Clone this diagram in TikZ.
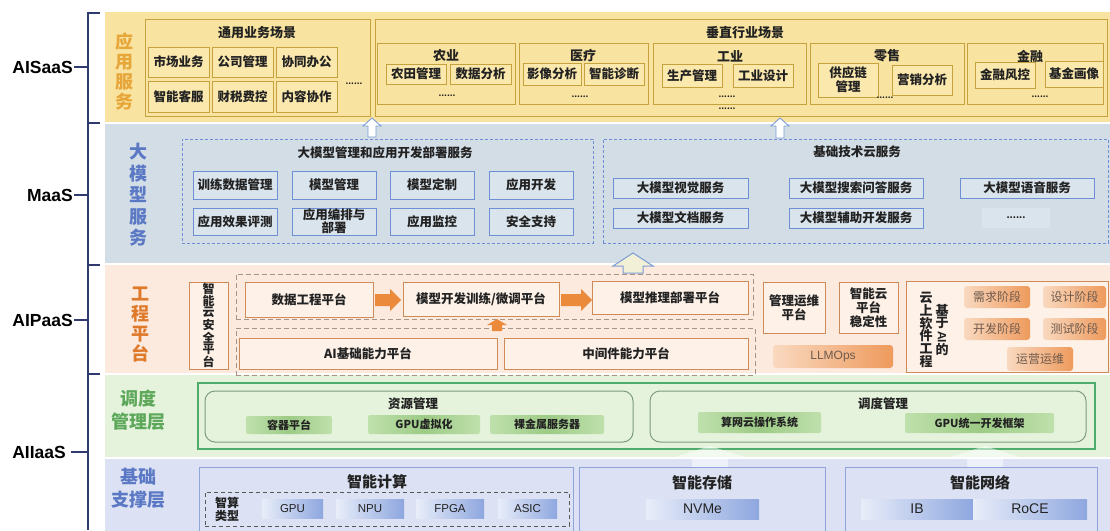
\documentclass[tikz,border=0pt]{standalone}
\usepackage{fontspec}
\setmainfont{Noto Sans CJK SC}
\newfontfamily\latf{Liberation Sans}
\usetikzlibrary{calc}
\definecolor{yband}{HTML}{F9E3A0}
\definecolor{ygold}{HTML}{C6A23F}
\definecolor{ycell}{HTML}{FBE8AD}
\definecolor{ytitle}{HTML}{E6A63A}
\definecolor{mband}{HTML}{D2DDE5}
\definecolor{mblue}{HTML}{6E8ED6}
\definecolor{mcell}{HTML}{DAE4EC}
\definecolor{mtitle}{HTML}{5B78C5}
\definecolor{pband}{HTML}{FCEADF}
\definecolor{pbrown}{HTML}{CF8A57}
\definecolor{pfill}{HTML}{FDF1E8}
\definecolor{pdashc}{HTML}{A89484}
\definecolor{parrow}{HTML}{EC8A3C}
\definecolor{ptitle}{HTML}{E07A2B}
\definecolor{ocL}{HTML}{F9D9C0}
\definecolor{ocR}{HTML}{EE9A5C}
\definecolor{otext}{HTML}{6E5A4E}
\definecolor{gband}{HTML}{E5F3DD}
\definecolor{gborder}{HTML}{4EAD6C}
\definecolor{grrc}{HTML}{7E9C7E}
\definecolor{gcL}{HTML}{BFE0AC}
\definecolor{gcM}{HTML}{9DCB86}
\definecolor{gtitle}{HTML}{5DA85A}
\definecolor{bband}{HTML}{DCE2F3}
\definecolor{bborder}{HTML}{8FA4D8}
\definecolor{bcL}{HTML}{E8EDF9}
\definecolor{bcR}{HTML}{8EA7DF}
\definecolor{brkc}{HTML}{2F3B6E}
\definecolor{tdark}{HTML}{222222}
\definecolor{arrowl}{HTML}{7D9BD5}
\definecolor{arrowf}{HTML}{F2F0D6}
\newcommand\fz[2]{\fontsize{#1}{#2}\selectfont}
\newcommand\mybox[7]{%
  \pgfmathsetmacro\mbw{#5-(#3)}%
  \pgfmathsetmacro\mbh{#6-(#4)}%
  \pgfmathsetmacro\mbx{(#3+#5)/2}%
  \pgfmathsetmacro\mby{(#4+#6)/2}%
  \node[mybase,minimum width=\mbw pt,minimum height=\mbh pt,#1] (#2) at (\mbx,\mby) {#7};}
% style, x, tip y, base y, head half width, shaft half width, head height
\newcommand\myup[7]{\filldraw[#1] (#2-#6,#4) -- (#2-#6,#3+#7) -- (#2-#5,#3+#7) -- (#2,#3) -- (#2+#5,#3+#7) -- (#2+#6,#3+#7) -- (#2+#6,#4) -- cycle;}
% style, y, tail x, tip x, head half height, shaft half height, head length
\newcommand\myright[7]{\filldraw[#1] (#3,#2-#6) -- (#4-#7,#2-#6) -- (#4-#7,#2-#5) -- (#4,#2) -- (#4-#7,#2+#5) -- (#4-#7,#2+#6) -- (#3,#2+#6) -- cycle;}
\tikzset{
 mybase/.style={inner sep=0pt, outer sep=0pt, align=center},
 yb/.style={draw=ygold, line width=1pt},
 yc/.style={draw=ygold, line width=1pt, fill=ycell, font=\bfseries\fz{12.5}{14}, text=tdark},
 yt/.style={font=\bfseries\fz{13}{15}, text=tdark, inner sep=0pt},
 dots/.style={font=\bfseries\fz{8}{8}, text=tdark, inner sep=0pt},
 mdash/.style={draw=mblue, line width=0.9pt, dash pattern=on 3pt off 2pt},
 mc/.style={draw=mblue, line width=1pt, fill=mcell, font=\bfseries\fz{12.5}{13}, text=tdark},
 mt/.style={font=\bfseries\fz{12.5}{14}, text=tdark, inner sep=0pt},
 pb/.style={draw=pbrown, line width=1pt, fill=pfill, font=\bfseries\fz{12.5}{14}, text=tdark},
 pdash/.style={draw=pdashc, line width=0.9pt, dash pattern=on 5pt off 3pt},
 oc/.style={left color=ocL, right color=ocR, rounded corners=3pt, font=\fz{12}{14}, text=otext},
 gbx/.style={draw=gborder, line width=1.3pt},
 grr/.style={draw=grrc, line width=1pt, rounded corners=10pt},
 gc/.style={left color=gcL, right color=gcL, middle color=gcM, rounded corners=2pt, font=\bfseries\fz{11}{12}, text=tdark},
 gt/.style={font=\bfseries\fz{12.5}{14}, text=tdark, inner sep=0pt},
 bbx/.style={draw=bborder, line width=1pt},
 bc/.style={left color=bcL, right color=bcR, font=\latf\fz{11.5}{13}, text=tdark},
 bcl/.style={left color=bcL, right color=bcR, font=\latf\fz{14}{16}, text=tdark},
 bt/.style={font=\bfseries\fz{15}{17}, text=tdark, inner sep=0pt},
 lt/.style={font=\bfseries\fz{18}{20}, align=center, inner sep=0pt},
 lab/.style={font=\latf\bfseries\fz{17.5}{19}, text=black, inner sep=1pt},
 brk/.style={draw=brkc, line width=1.2pt},
 vt/.style={font=\bfseries\fz{13}{12.8}, text=tdark, align=center, inner sep=0pt},
}
\begin{document}
\begin{tikzpicture}[x=1pt,y=-1pt]
\useasboundingbox (0,0) rectangle (1110,530);
\fill[white] (0,0) rectangle (1110,530);
% ---------- bands
\mybox{fill=yband}{bandA}{105}{12}{1110}{122}{}
\mybox{fill=mband}{bandM}{105}{124}{1110}{263}{}
\mybox{fill=pband}{bandP}{105}{265}{1110}{373}{}
\mybox{fill=gband}{bandG}{105}{375}{1110}{457}{}
\mybox{fill=bband}{bandB}{105}{459}{1110}{532}{}
% ---------- brackets and labels
\draw[brk] (100,13) -- (88,13) -- (88,530);
\draw[brk] (88,123) -- (100,123);
\draw[brk] (88,265) -- (100,265);
\draw[brk] (88,374) -- (100,374);
\coordinate (b1) at (88,67);
\coordinate (b2) at (88,195);
\coordinate (b3) at (88,320);
\coordinate (b4) at (88,452);
\node[lab,anchor=east] (l1) at (74,67) {AISaaS};
\node[lab,anchor=east] (l2) at (74,195) {MaaS};
\node[lab,anchor=east] (l3) at (74,320) {AIPaaS};
\node[lab,anchor=east] (l4) at (67,452) {AIIaaS};
\draw[brk] (l1.east) -- (b1);
\draw[brk] (l2.east) -- (b2);
\draw[brk] (l3.east) -- (b3);
\draw[brk] ($(l4.east)+(4,0)$) -- (b4);
% ---------- layer titles
\node[lt,text=ytitle,font=\bfseries\fz{18}{20}] (tA) at (124,72) {应\\用\\服\\务};
\node[lt,text=mtitle,font=\bfseries\fz{18}{21.5}] (tM) at (138,195) {大\\模\\型\\服\\务};
\node[lt,text=ptitle,font=\bfseries\fz{18}{20}] (tP) at (140,325) {工\\程\\平\\台};
\node[lt,text=gtitle,font=\bfseries\fz{18}{23}] (tG) at (138,410) {调度\\管理层};
\node[lt,text=mtitle,font=\bfseries\fz{18}{23}] (tB) at (138,488) {基础\\支撑层};
% ---------- AISaaS
\mybox{yb}{gen}{145}{19}{370}{116}{}
\node[yt] (genT) at (257,33) {通用业务场景};
\mybox{yc}{g11}{148}{47}{209}{77}{市场业务}
\mybox{yc}{g12}{212}{47}{273}{77}{公司管理}
\mybox{yc}{g13}{276}{47}{337}{77}{协同办公}
\mybox{yc}{g21}{148}{81}{209}{112}{智能客服}
\mybox{yc}{g22}{212}{81}{273}{112}{财税费控}
\mybox{yc}{g23}{276}{81}{337}{112}{内容协作}
\node[dots] (gd) at (354,84) {......};
\mybox{yb}{ver}{375}{19}{1107}{116}{}
\node[yt] (verT) at (745,33) {垂直行业场景};
% agriculture
\mybox{yb}{agr}{377}{43}{515}{104}{}
\node[yt] (agrT) at (446,56) {农业};
\mybox{yc}{a1}{386}{64}{446}{84}{农田管理}
\mybox{yc}{a2}{450}{64}{511}{84}{数据分析}
\node[dots] (ad) at (447,96) {......};
% medical
\mybox{yb}{med}{519}{43}{648}{104}{}
\node[yt] (medT) at (583,56) {医疗};
\mybox{yc}{m1}{523}{63}{581}{85}{影像分析}
\mybox{yc}{m2}{584}{63}{644}{85}{智能诊断}
\node[dots] (md) at (580,97) {......};
% industry
\mybox{yb}{ind}{653}{43}{806}{104}{}
\node[yt] (indT) at (730,56) {工业};
\mybox{yc}{i1}{662}{64}{722}{87}{生产管理}
\mybox{yc}{i2}{733}{64}{793}{87}{工业设计}
\node[dots] (id1) at (727,97) {......};
\node[dots] (id2) at (727,109) {......};
% retail
\mybox{yb}{ret}{810}{43}{964}{104}{}
\node[yt] (retT) at (887,56) {零售};
\mybox{yc,font=\bfseries\fz{12.5}{14}}{r1}{818}{63}{878}{97}{供应链\\管理}
\mybox{yc}{r2}{892}{65}{952}{95}{营销分析}
\node[dots] (rd) at (885,98) {......};
% finance
\mybox{yb}{fin}{967}{43}{1103}{104}{}
\node[yt] (finT) at (1030,56) {金融};
\mybox{yc}{f1}{975}{62}{1035}{88}{金融风控}
\mybox{yc}{f2}{1045}{61}{1103}{87}{基金画像}
\node[dots] (fd) at (1040,97) {......};
% ---------- hollow arrows to AISaaS
\myup{draw=arrowl,fill=white,line width=0.9pt}{372}{118}{137}{9}{4}{8}
\myup{draw=arrowl,fill=white,line width=0.9pt}{780}{118}{138}{9}{4}{8}
% ---------- MaaS
\mybox{mdash}{svc}{182}{139}{593}{243}{}
\node[mt] (svcT) at (385,153) {大模型管理和应用开发部署服务};
\mybox{mc}{s11}{193}{171}{277}{199}{训练数据管理}
\mybox{mc}{s12}{292}{171}{376}{199}{模型管理}
\mybox{mc}{s13}{390}{171}{474}{199}{模型定制}
\mybox{mc}{s14}{489}{171}{573}{199}{应用开发}
\mybox{mc}{s21}{193}{208}{277}{235}{应用效果评测}
\mybox{mc}{s22}{292}{208}{376}{235}{应用编排与\\部署}
\mybox{mc}{s23}{390}{208}{474}{235}{应用监控}
\mybox{mc}{s24}{489}{208}{573}{235}{安全支持}
\mybox{mdash}{bas}{603}{139}{1108}{243}{}
\node[mt] (basT) at (857,152) {基础技术云服务};
\mybox{mc}{t11}{613}{178}{748}{198}{大模型视觉服务}
\mybox{mc}{t12}{789}{178}{923}{198}{大模型搜索问答服务}
\mybox{mc}{t13}{960}{178}{1094}{198}{大模型语音服务}
\mybox{mc}{t21}{613}{208}{748}{228}{大模型文档服务}
\mybox{mc}{t22}{789}{208}{923}{228}{大模型辅助开发服务}
\mybox{fill=mcell,font=\bfseries\fz{9}{9},text=tdark}{t23}{982}{208}{1050}{228}{......}
% ---------- arrow to MaaS
\myup{draw=arrowl,fill=arrowf,line width=1pt}{633}{253}{273}{20}{10}{13}
% ---------- AIPaaS
\mybox{pb,font=\bfseries\fz{12}{11.5}}{sec}{189}{282}{228}{369}{智\\能\\云\\安\\全\\平\\台}
\mybox{pdash}{dtop}{236}{274}{753}{319}{}
\mybox{pdash}{dbot}{236}{328}{755}{375}{}
\mybox{pb}{de}{245}{282}{373}{317}{数据工程平台}
\mybox{pb}{md}{403}{282}{559}{316}{模型开发训练/微调平台}
\mybox{pb}{mi}{592}{281}{748}{314}{模型推理部署平台}
\mybox{pb}{ai}{239}{338}{497}{369}{AI基础能力平台}
\mybox{pb}{mw}{504}{338}{748}{369}{中间件能力平台}
\myright{parrow,draw=none}{300}{375}{401}{11}{6}{11}
\myright{parrow,draw=none}{300}{561}{592}{11}{6}{11}
\myup{parrow,draw=none}{497}{319}{331}{10}{5}{6}
\mybox{pb}{ops}{763}{282}{825}{333}{管理运维\\平台}
\mybox{pb}{stb}{839}{282}{898}{333}{智能云\\平台\\稳定性}
\mybox{oc}{llm}{773}{345}{893}{368}{\latf LLMOps}
\mybox{pb}{swe}{906}{281}{1108}{372}{}
\node[vt] (sw1) at (926,330) {云\\上\\软\\件\\工\\程};
\node[vt] (sw2) at (942,310) {基};
\node[vt] (sw3) at (942,323) {于};
\node[vt,rotate=-90,font=\latf\bfseries\fz{12}{12}] (sw4) at (942,337) {AI};
\node[vt] (sw5) at (942,350) {的};
\mybox{oc}{ph1}{964}{286}{1030}{308}{需求阶段}
\mybox{oc}{ph2}{1043}{286}{1106}{308}{设计阶段}
\mybox{oc}{ph3}{964}{318}{1030}{340}{开发阶段}
\mybox{oc}{ph4}{1043}{318}{1106}{340}{测试阶段}
\mybox{oc}{ph5}{1007}{347}{1073}{371}{运营运维}
% ---------- scheduling layer
\mybox{gbx}{gmain}{198}{383}{1095}{449}{}
\mybox{grr}{res}{205}{391}{633}{442}{}
\node[gt] (resT) at (413,404) {资源管理};
\mybox{gc}{r1c}{246}{416}{332}{434}{容器平台}
\mybox{gc}{r2c}{368}{415}{480}{434}{GPU虚拟化}
\mybox{gc}{r3c}{490}{415}{604}{434}{裸金属服务器}
\mybox{grr}{sch}{650}{391}{1086}{442}{}
\node[gt] (schT) at (883,404) {调度管理};
\mybox{gc}{s1c}{698}{412}{821}{433}{算网云操作系统}
\mybox{gc}{s2c}{905}{413}{1054}{433}{GPU统一开发框架}
% ---------- soft arrows from base layer
\myup{fill=white,draw=none,fill opacity=0.5}{710}{446}{467}{38}{18}{12}
\myup{fill=white,draw=none,fill opacity=0.5}{985}{446}{467}{38}{18}{12}
% ---------- base layer
\mybox{bbx}{cmp}{199}{467}{573}{535}{}
\node[bt] (cmpT) at (377,482) {智能计算};
\mybox{draw=gray!70!black,line width=0.9pt,dash pattern=on 4pt off 3pt}{ctype}{205}{492}{569}{526}{}
\node[font=\bfseries\fz{12}{13},align=center,inner sep=0pt,text=tdark] (ctT) at (227,509) {智算\\类型};
\mybox{bc}{gpu}{262}{499}{323}{518}{GPU}
\mybox{bc}{npu}{336}{499}{404}{518}{NPU}
\mybox{bc}{fpga}{416}{499}{484}{518}{FPGA}
\mybox{bc}{asic}{498}{499}{557}{518}{ASIC}
\mybox{bbx}{sto}{579}{467}{825}{535}{}
\node[bt] (stoT) at (702,483) {智能存储};
\mybox{bcl}{nvme}{646}{499}{759}{519}{NVMe}
\mybox{bbx}{net}{845}{467}{1097}{535}{}
\node[bt] (netT) at (980,483) {智能网络};
\mybox{bcl}{ib}{861}{499}{973}{519}{IB}
\mybox{bcl}{roce}{973}{499}{1087}{519}{RoCE}
\end{tikzpicture}
\end{document}
